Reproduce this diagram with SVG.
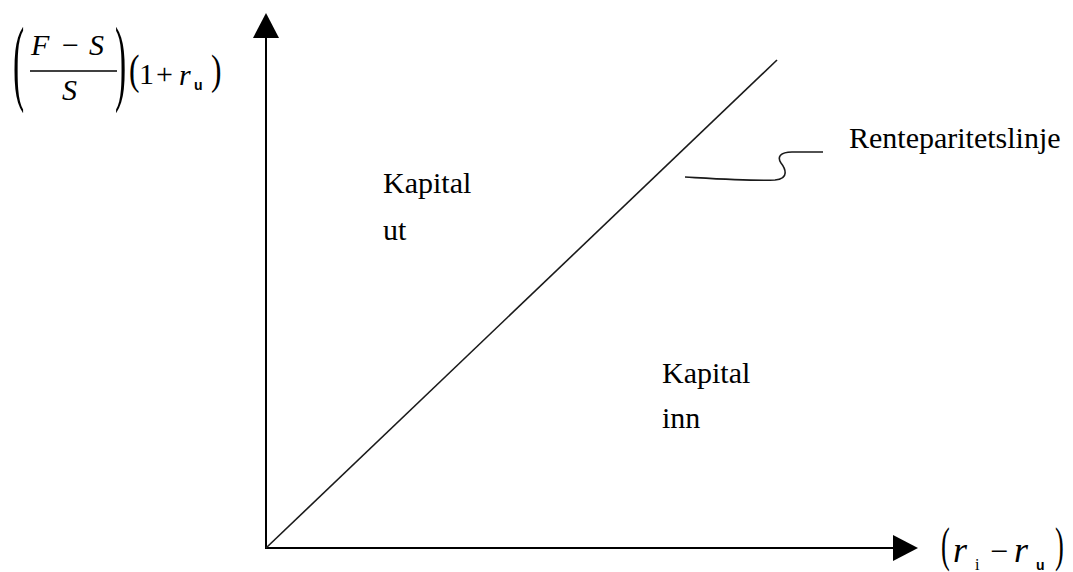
<svg xmlns="http://www.w3.org/2000/svg" width="1073" height="572" viewBox="0 0 1073 572">
<style>
.t{font-family:'Liberation Serif','Times New Roman',serif;fill:#000}
.lbl{font-size:30px}
.it{font-style:italic}
.sub{font-family:'Liberation Sans',Arial,sans-serif;font-weight:bold;font-size:14px;fill:#000}
.ax{stroke:#000;stroke-width:2;fill:none}
.ln{stroke:#1a1a1a;stroke-width:1.6;fill:none}
</style>
<rect width="1073" height="572" fill="#fff"/>
<g id="connectors">
<line class="ax" x1="266" y1="549" x2="266" y2="36"/>
<polygon points="266,13 253,38 279,38" fill="#000"/>
<line class="ax" x1="265" y1="548" x2="895" y2="548"/>
<polygon points="918,548 893,535 893,561" fill="#000"/>
<line class="ln" x1="266" y1="548" x2="777" y2="60"/>
<path class="ln" d="M685,177 C720,179 750,181 775,180 C790,179 785,168 781,163 C777,157 780,152 792,152 L823,152"/>
</g>
<g id="y-label">
<text class="t" transform="translate(13,93) scale(0.35,1)" font-size="96">(</text>
<text class="t it" x="31" y="55" font-size="30">F</text>
<text class="t" x="62" y="55" font-size="30">−</text>
<text class="t it" x="89" y="55" font-size="30">S</text>
<line x1="30" y1="71" x2="117" y2="71" stroke="#000" stroke-width="1.5"/>
<text class="t it" x="62" y="100" font-size="30">S</text>
<text class="t" transform="translate(115,93) scale(0.35,1)" font-size="96">)</text>
<text class="t" transform="translate(129,84) scale(0.75,1)" font-size="42">(</text>
<text class="t" x="139" y="84" font-size="30">1</text>
<text class="t" x="156" y="84" font-size="30">+</text>
<text class="t it" x="179" y="85" font-size="30">r</text>
<text class="sub" x="194" y="90">u</text>
<text class="t" transform="translate(211,84) scale(0.75,1)" font-size="42">)</text>
</g>
<g id="x-label">
<text class="t" transform="translate(941,561) scale(0.55,1)" font-size="48">(</text>
<text class="t it" x="953" y="562" font-size="36">r</text>
<text class="t" x="975" y="570" font-size="16">i</text>
<text class="t" x="990" y="562" font-size="32">−</text>
<text class="t it" x="1014" y="562" font-size="36">r</text>
<text class="sub" x="1036" y="570" font-size="15">u</text>
<text class="t" transform="translate(1055,561) scale(0.55,1)" font-size="48">)</text>
</g>
<g id="kapital-ut">
<text class="t lbl" x="383" y="193">Kapital</text>
<text class="t lbl" x="383" y="240">ut</text>
</g>
<g id="kapital-inn">
<text class="t lbl" x="662" y="383">Kapital</text>
<text class="t lbl" x="662" y="428">inn</text>
</g>
<g id="renteparitetslinje">
<text class="t lbl" x="849" y="148">Renteparitetslinje</text>
</g>
</svg>
